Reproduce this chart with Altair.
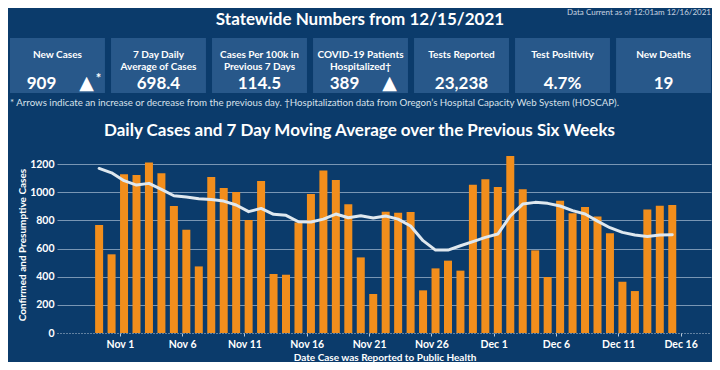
import altair as alt
import pandas as pd

# ---------------- data ----------------
dates = pd.date_range("2021-10-30", "2021-12-15").strftime("%Y-%m-%d").tolist()
cases = [767, 559, 1127, 1122, 1212, 1134, 902, 734, 473, 1108, 1030, 1001, 802, 1079,
         419, 414, 785, 987, 1155, 1086, 914, 537,
         277, 861, 854, 859, 303, 459, 514, 443, 1053, 1093,
         1037, 1257, 1022, 587, 398, 940, 850, 895, 828, 708, 364, 298, 878, 904, 909]
avg7 = [1169, 1138, 1082, 1051, 1063, 1020, 975, 966, 954, 949, 937, 909, 862, 885,
        843, 836, 790, 788, 809, 845, 819, 833,
        817, 831, 809, 760, 656, 589, 589, 620, 649, 679,
        703, 831, 916, 928, 921, 902, 869, 845, 795, 748, 715, 696, 686, 696, 698]

card_labels = ["New Cases", "7 Day Daily\nAverage of Cases", "Cases Per 100k in\nPrevious 7 Days",
               "COVID-19 Patients\nHospitalized\u2020", "Tests Reported", "Test Positivity", "New Deaths"]
card_values = ["909", "698.4", "114.5", "389", "23,238", "4.7%", "19"]
card_arrows = ["\u25b2", "", "", "\u25b2", "", "", ""]
card_notes = ["*", "", "", "", "", "", ""]

y_ticks = [0, 200, 400, 600, 800, 1000, 1200]
x_tick_dates = ["2021-11-01", "2021-11-06", "2021-11-11", "2021-11-16",
                "2021-11-21", "2021-11-26", "2021-12-01", "2021-12-06",
                "2021-12-11", "2021-12-16"]

title_text = "Statewide Numbers from 12/15/2021"
current_text = "Data Current as of 12:01am 12/16/2021"
footnote_text = ("* Arrows indicate an increase or decrease from the previous day. "
                 "\u2020Hospitalization data from Oregon\u2019s Hospital Capacity Web System (HOSCAP).")
subtitle_text = "Daily Cases and 7 Day Moving Average over the Previous Six Weeks"
ytitle_text = "Confirmed and Presumptive Cases"
xtitle_text = "Date Case was Reported to Public Health"

# ---------------- style ----------------
FONT = "Lato"
BG = "#0b3b6b"
CARD = "#28588a"
ORANGE = "#f28e1c"
LINE = "#dfe8ef"
WHITE = "#ffffff"


def dt(s, h=0, m=0):
    y, mo, d = (int(v) for v in s.split("-"))
    return alt.DateTime(year=y, month=mo, date=d, hours=h, minutes=m, utc=True)


df = pd.DataFrame({"date": dates, "cases": cases, "avg": avg7})
cards = pd.DataFrame({"label": card_labels, "value": card_values,
                      "arrow": card_arrows, "note": card_notes})

xscale = alt.Scale(type="utc", domain=[dt("2021-10-27", 8, 30), dt("2021-12-18", 1, 0)])

base = alt.Chart(df).transform_calculate(
    t="time(utcParse(datum.date, '%Y-%m-%d')) + 8*3600*1000"
)

xaxis = alt.Axis(values=[dt(s) for s in x_tick_dates], format="%b %-d", tickCount=20,
                 title=None, grid=False, domain=True, domainColor="#b9c9d9",
                 domainDash=[1, 2], domainWidth=1, ticks=True, tickColor="#b9c9d9",
                 tickSize=3, labelPadding=3, labelColor=WHITE, labelFont=FONT,
                 labelFontWeight="bold", labelFontSize=10.5, labelBaseline="top",
                 labelOverlap=False)

bars = base.mark_bar(size=8, color=ORANGE).encode(
    x=alt.X("t:T", scale=xscale, axis=xaxis),
    y=alt.Y("cases:Q", scale=alt.Scale(domain=[0, 1300], nice=False),
            axis=alt.Axis(values=y_ticks, format="d", tickCount=10, title=None,
                          domain=False, ticks=False,
                          grid=True, gridColor="#9fb6cc",
                          gridOpacity={"condition": {"test": "datum.value === 0", "value": 0},
                                       "value": 0.75},
                          gridWidth=1, labelPadding=3, labelColor=WHITE, labelFont=FONT,
                          labelFontWeight="bold", labelFontSize=10.5, labelOverlap=False)),
)

line = base.mark_line(color=LINE, strokeWidth=3, strokeCap="round", strokeJoin="round").encode(
    x=alt.X("t:T", scale=xscale),
    y=alt.Y("avg:Q"),
)

main = alt.layer(bars, line)

cx = alt.X("label:N", sort=card_labels, axis=None,
           scale=alt.Scale(range=[-47, 654], paddingInner=0.06, paddingOuter=0))

cbase = alt.Chart(cards)
card_rect = cbase.mark_rect(color=CARD).encode(x=cx, y=alt.value(-112), y2=alt.value(-57))
card_lab = cbase.mark_text(font=FONT, fontWeight="bold", fontSize=10, color=WHITE,
                           lineBreak="\n", lineHeight=12, baseline="middle").encode(
    x=cx, y=alt.value(-95.5), text="label:N")
val_plain = cbase.transform_filter("datum.arrow === ''").mark_text(
    font=FONT, fontWeight="bold", fontSize=17, color=WHITE, baseline="middle").encode(
    x=cx, y=alt.value(-66.5), text="value:N")
val_arrow = cbase.transform_filter("datum.arrow !== ''").mark_text(
    font=FONT, fontWeight="bold", fontSize=17, color=WHITE, baseline="middle", dx=-16).encode(
    x=cx, y=alt.value(-66.5), text="value:N")
arrow_txt = cbase.transform_filter("datum.arrow !== ''").mark_text(
    font="DejaVu Sans", fontSize=19, color=WHITE, baseline="middle", dx=29).encode(
    x=cx, y=alt.value(-67.5), text="arrow:N")
note_txt = cbase.transform_filter("datum.note !== ''").mark_text(
    font=FONT, fontWeight="bold", fontSize=13, color=WHITE, baseline="middle", dx=41).encode(
    x=cx, y=alt.value(-71), text="note:N")

card_layer = alt.layer(card_rect, card_lab, val_plain, val_arrow, arrow_txt, note_txt)


def label(text, x, y, size, weight="normal", align="center", color=WHITE, angle=0):
    return alt.Chart(pd.DataFrame({"txt": [text]})).mark_text(
        font=FONT, fontSize=size, fontWeight=weight, align=align, baseline="middle",
        color=color, angle=angle).encode(x=alt.value(x), y=alt.value(y), text="txt:N")


texts = [
    label(current_text, 654, -137, 8, color="#c8d4e0", align="right"),
    label(title_text, 303, -130, 17, weight="bold"),
    label(footnote_text, -47, -47, 9.7, color="#d8e1ea", align="left"),
    label(subtitle_text, 302.5, -19, 17, weight="bold"),
    label(ytitle_text, -34, 95, 10, weight="bold", angle=270),
    label(xtitle_text, 328, 208, 10, weight="bold"),
]

chart = alt.layer(main, card_layer, *texts).resolve_scale(x="independent").properties(
    width=654, height=183,
    padding={"left": 49, "top": 142, "right": 1, "bottom": 29},
    autosize=alt.AutoSizeParams(type="none"),
    background=BG,
).configure_view(stroke=None)

chart.save("out.html", embed_options={"renderer": "svg", "actions": False})
